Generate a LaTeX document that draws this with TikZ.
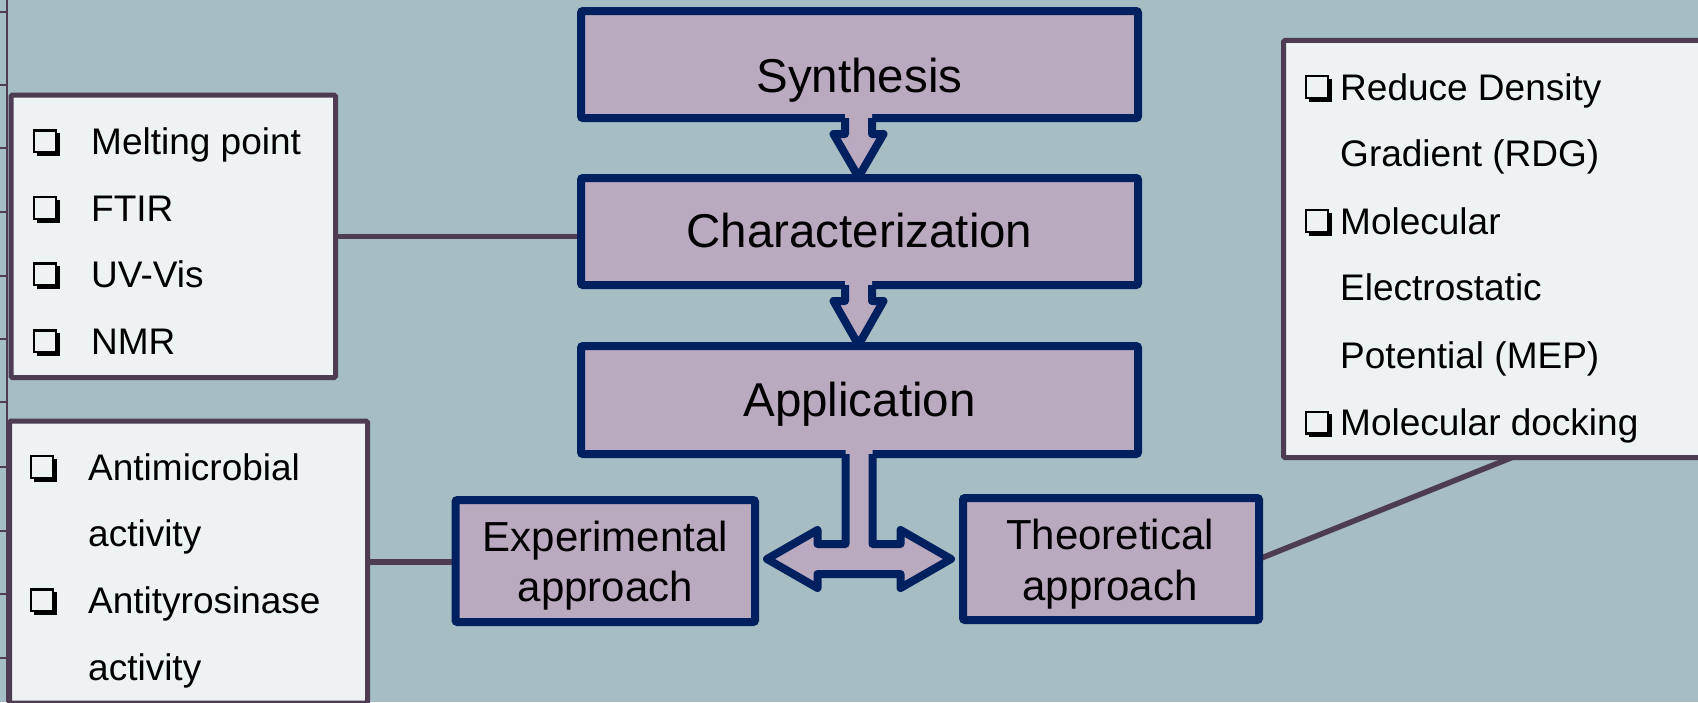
\documentclass[tikz,border=0pt]{standalone}
\usepackage{fontspec}
\setmainfont{Liberation Sans}
\definecolor{bgc}{HTML}{A6BEC3}
\definecolor{mauve}{HTML}{BAAABF}
\definecolor{navy}{HTML}{002060}
\definecolor{sidef}{HTML}{EDF3F3}
\definecolor{sideb}{HTML}{4E3D52}
\tikzset{
  mainbox/.style={draw=navy, fill=mauve, line width=8pt, inner sep=0pt, outer sep=0pt, rounded corners=2pt},
  sidebox/.style={draw=sideb, fill=sidef, line width=5pt, inner sep=0pt, outer sep=0pt, rounded corners=1.5pt},
  conn/.style={draw=sideb, line width=5.5pt},
  ticks/.style={draw=sideb, line width=1.8pt},
  bigtxt/.style={font=\fontsize{47.5}{57}\selectfont, anchor=base, inner sep=0pt},
  midtxt/.style={font=\fontsize{42}{50}\selectfont, anchor=base, inner sep=0pt},
  listtxt/.style={font=\fontsize{37}{44}\selectfont, anchor=base west, inner sep=0pt},
  arrowline/.style={draw=navy, line width=8pt, line join=round},
  qb/.pic={
    \fill[black] (3.5,3.5) rectangle (27,26.5);
    \filldraw[fill=sidef, draw=black, line width=2.4pt] (1.2,1.2) rectangle (22.8,22.8);
  }
}
\newcommand\dnarrow[4]{%
  \fill[mauve] (#1-13.5,#2-6) -- (#1-13.5,#3) -- (#1-25,#3) -- (#1,#4) -- (#1+25,#3) -- (#1+13.5,#3) -- (#1+13.5,#2-6) -- cycle;
  \draw[arrowline] (#1-13.5,#2) -- (#1-13.5,#3) -- (#1-25,#3) -- (#1,#4) -- (#1+25,#3) -- (#1+13.5,#3) -- (#1+13.5,#2);
}
\begin{document}
\begin{tikzpicture}[x=1pt,y=-1pt]
\useasboundingbox (0,0) rectangle (1698,702);
\clip (0,0) rectangle (1698,702);
\fill[bgc] (0,0) rectangle (1698,702);
% left edge ruler
\draw[ticks] (7,0) -- (7,702);
\foreach \yy in {11.7,85,148.3,211.7,276,339.3,401.7,466.7,531,594.3,657.7}
  \draw[ticks] (0,\yy) -- (7,\yy);

% side boxes
\node[sidebox, minimum width=324.5pt, minimum height=282.5pt] (lt) at (173.25,236.25) {};
\node[sidebox, minimum width=358pt, minimum height=282pt] (lb) at (188.5,562) {};
\node[sidebox, minimum width=457pt, minimum height=417.2pt] (rt) at (1512,248.9) {};

% connectors
\draw[conn] (lt.east) -- (lt.east -| 579,0);
\draw[conn] (lb.east) -- (lb.east -| 455.5,0);
\draw[conn] (rt.south) -- (1259,559);

% main boxes
\node[mainbox, minimum width=557pt, minimum height=107pt] (syn) at (859.5,64.5) {};
\node[mainbox, minimum width=557pt, minimum height=107pt] (char) at (859.5,231.5) {};
\node[mainbox, minimum width=557pt, minimum height=108pt] (app) at (859.5,400) {};
\node[mainbox, minimum width=299.5pt, minimum height=122pt] (exp) at (605.25,561) {};
\node[mainbox, minimum width=296pt, minimum height=122pt] (theo) at (1111,559) {};

% arrows
\dnarrow{858.5}{118}{134}{177}
\dnarrow{858.5}{285}{301}{345}
\fill[mauve] (845.5,448) -- (845.5,544) -- (817.5,544) -- (817.5,530) -- (767,559) -- (817.5,588) -- (817.5,574)
  -- (900.5,574) -- (900.5,588) -- (951,559) -- (900.5,530) -- (900.5,544) -- (872.5,544) -- (872.5,448) -- cycle;
\draw[arrowline] (845.5,454) -- (845.5,544) -- (817.5,544) -- (817.5,530) -- (767,559) -- (817.5,588) -- (817.5,574)
  -- (900.5,574) -- (900.5,588) -- (951,559) -- (900.5,530) -- (900.5,544) -- (872.5,544) -- (872.5,454);

% main texts
\node[bigtxt] (syntxt) at (859.5,92.7) {Synthesis};
\node[bigtxt] (chartxt) at (859.5,247) {Characterization};
\node[bigtxt] (apptxt) at (859.5,416.5) {Application};
\node[midtxt] (exp1) at (605.5,551.5) {Experimental};
\node[midtxt] (exp2) at (605.5,601.5) {approach};
\node[midtxt] (theo1) at (1110,549) {Theoretical};
\node[midtxt] (theo2) at (1110,600) {approach};

% left top list
\foreach \b in {154.3,221,287.3,354.3} \pic at (33,\b-25) {qb};
\node[listtxt] (l1) at (91,154.3) {Melting point};
\node[listtxt] (l2) at (91,221) {FTIR};
\node[listtxt] (l3) at (91,287.3) {UV-Vis};
\node[listtxt] (l4) at (91,354.3) {NMR};

% left bottom list
\foreach \b in {480,613.3} \pic at (30,\b-25) {qb};
\node[listtxt] (b1) at (88,480) {Antimicrobial};
\node[listtxt] (b2) at (88,546.7) {activity};
\node[listtxt] (b3) at (88,613.3) {Antityrosinase};
\node[listtxt] (b4) at (88,680) {activity};

% right list
\foreach \b in {100,234,435.7} \pic at (1305,\b-25) {qb};
\node[listtxt] (r1) at (1340,100) {Reduce Density};
\node[listtxt] (r2) at (1340,166.7) {Gradient (RDG)};
\node[listtxt] (r3) at (1340,234) {Molecular};
\node[listtxt] (r4) at (1340,300.7) {Electrostatic};
\node[listtxt] (r5) at (1340,368.3) {Potential (MEP)};
\node[listtxt] (r6) at (1340,435.7) {Molecular docking};
\end{tikzpicture}
\end{document}
